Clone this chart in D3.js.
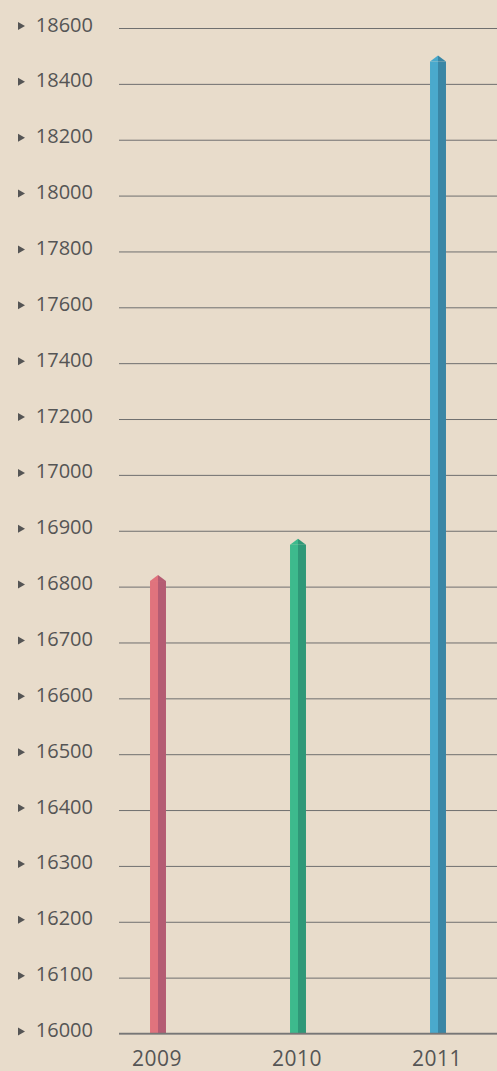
<!DOCTYPE html>
<html>
<head>
<meta charset="utf-8">
<script src="https://cdn.jsdelivr.net/npm/d3@7"></script>
<style>
  html, body { margin: 0; padding: 0; background: #e8dccb; }
  svg { display: block; }
  text { font-family: "Open Sans", sans-serif; fill: #555; }
</style>
</head>
<body>
<div id="chart"></div>
<script>
const years = ["2009", "2010", "2011"];
const values = [16810, 16875, 18480];
const tickValues = [16000, 16100, 16200, 16300, 16400, 16500, 16600, 16700, 16800, 16900,
                    17000, 17200, 17400, 17600, 17800, 18000, 18200, 18400, 18600];
const lightColors = ["#e0737d", "#3dba8d", "#4aa9cc"];
const darkColors = ["#b45c73", "#2f9878", "#3a86a5"];

const W = 497, H = 1071;
const plotLeft = 119, plotRight = W, plotTop = 28, plotBottom = 1033.5;

const svg = d3.select("#chart").append("svg").attr("width", W).attr("height", H);

// Uneven axis: 100-steps up to 17000, 200-steps above, all drawn equally spaced
const y = d3.scaleLinear()
  .domain([16000, 17000, 18600])
  .range([plotBottom, plotBottom - (plotBottom - plotTop) * 10 / 18, plotTop]);
const x = d3.scaleBand().domain(years).range([88, 508]).paddingInner(0.886).paddingOuter(0.443);

// Grid lines and value labels
const yAxis = svg.append("g")
  .attr("transform", `translate(${plotLeft},0)`)
  .call(d3.axisLeft(y).tickValues(tickValues).tickSize(-(plotRight - plotLeft)).tickPadding(26).tickFormat(d3.format("d")));
yAxis.select(".domain").remove();
yAxis.selectAll(".tick line").attr("stroke", "#6f6f6f").attr("stroke-width", 1);
yAxis.selectAll(".tick text")
  .attr("font-size", 20).attr("fill", "#555").attr("dy", "0.15em")
  .style("font-family", "'Open Sans', sans-serif");
yAxis.selectAll(".tick").append("path")
  .attr("d", "M-101,-6.5 L-94,-2.5 L-101,1.5 Z")
  .attr("fill", "#555");

// Bars: two-tone column with a pointed cap
const bars = svg.append("g").selectAll("g").data(years).join("g");
const bw = x.bandwidth();
const cap = 6;
bars.append("rect")
  .attr("x", d => x(d))
  .attr("y", (d, i) => y(values[i]))
  .attr("width", bw / 2)
  .attr("height", (d, i) => plotBottom - y(values[i]))
  .attr("fill", (d, i) => lightColors[i]);
bars.append("rect")
  .attr("x", d => x(d) + bw / 2)
  .attr("y", (d, i) => y(values[i]))
  .attr("width", bw / 2)
  .attr("height", (d, i) => plotBottom - y(values[i]))
  .attr("fill", (d, i) => darkColors[i]);
bars.append("path")
  .attr("d", (d, i) => {
    const x0 = x(d), yv = y(values[i]);
    return `M${x0},${yv} L${x0 + bw / 2},${yv - cap} L${x0 + bw / 2},${yv} Z`;
  })
  .attr("fill", (d, i) => lightColors[i]);
bars.append("path")
  .attr("d", (d, i) => {
    const x0 = x(d), yv = y(values[i]);
    return `M${x0 + bw / 2},${yv - cap} L${x0 + bw},${yv} L${x0 + bw / 2},${yv} Z`;
  })
  .attr("fill", (d, i) => darkColors[i]);

// Baseline
svg.append("line")
  .attr("x1", plotLeft).attr("x2", plotRight)
  .attr("y1", plotBottom).attr("y2", plotBottom)
  .attr("stroke", "#777").attr("stroke-width", 1.5);

// Year labels
const xAxis = svg.append("g")
  .attr("transform", `translate(0,${plotBottom})`)
  .call(d3.axisBottom(x).tickSize(0).tickPadding(18));
xAxis.select(".domain").remove();
xAxis.selectAll(".tick text")
  .attr("font-size", 21).attr("fill", "#555").attr("dx", "-1")
  .style("letter-spacing", "0.5px")
  .style("font-family", "'Open Sans', sans-serif");
</script>
</body>
</html>
